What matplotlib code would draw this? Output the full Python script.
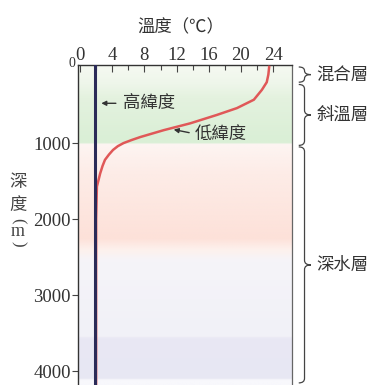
import numpy as np
import matplotlib
matplotlib.use("Agg")
import matplotlib.pyplot as plt
from matplotlib.path import Path
from matplotlib.patches import PathPatch
from matplotlib.colors import to_rgb
import matplotlib.transforms as mtransforms

# ---------------- data ----------------
x_ticks = [0, 4, 8, 12, 16, 20, 24]
x_minor = [2, 6, 10, 14, 18, 22]
y_ticks = [1000, 2000, 3000, 4000]

depth_low = [0, 100, 200, 300, 430, 540, 630, 740, 830, 920, 960, 1000, 1040, 1090, 1150, 1220, 1300, 1400, 1570, 2000, 4250]
temp_low = [23.5, 23.4, 23.2, 22.6, 21.6, 19.5, 17.0, 13.7, 10.4, 7.5, 6.4, 5.4, 4.7, 4.1, 3.6, 3.1, 2.8, 2.5, 2.1, 2.0, 2.0]

depth_high = [-30, 4250]
temp_high = [1.8, 1.8]

layer_names = ["混合層", "斜溫層", "深水層"]
layer_top = [0, 230, 1050]
layer_bottom = [200, 1030, 4150]

title = "溫度（℃）"
ylabel_chars = ["深", "度", "(", "m", ")"]

# ---------------- figure ----------------
plt.rcParams['font.family'] = ['Noto Sans CJK TC', 'DejaVu Sans']
fig = plt.figure(figsize=(3.84, 3.85), dpi=100)
fig.patch.set_facecolor('white')

x0, x1 = -0.25, 26.3
ytop, ybot = -26, 4228
ax = fig.add_axes([78/384, -0.01, (291.7-78)/384, 1-65/385+0.01])

# background gradient bands
stops_d = [-30, 220, 400, 950, 995, 1010, 1400, 2250, 2400, 2550, 3540, 3560, 4090, 4110, 4260]
stops_c = ['#f6f9f2', '#eef6ea', '#e4f2df', '#daefd6', '#daefd6', '#fdf5f2', '#fdece7',
           '#fde1d9', '#fdf1ed', '#f5f4f9', '#f1f1f7', '#e9e8f4', '#e7e7f3', '#f8f8fc', '#f8f8fc']
grid = np.linspace(-30, 4260, 800)
rgb = np.array([to_rgb(c) for c in stops_c])
img = np.stack([np.interp(grid, stops_d, rgb[:, k]) for k in range(3)], axis=-1)[:, None, :]
ax.imshow(img, extent=[x0, x1, 4260, -30], aspect='auto', interpolation='bilinear', zorder=0)
ax.set_xlim(x0, x1)
ax.set_ylim(ybot, ytop)

# curves
ax.plot(temp_low, depth_low, color='#e05858', lw=1.8, zorder=3, solid_joinstyle='round')
ax.plot(temp_high, depth_high, color='#2b2b58', lw=2.2, zorder=4)

# axes styling
ax.xaxis.tick_top()
ax.set_xticks(x_ticks)
ax.set_xticks(x_minor, minor=True)
ax.set_xticklabels([str(v) for v in x_ticks], family='Liberation Serif', fontsize=13.5)
ax.tick_params(axis='x', which='major', direction='in', length=5, width=0.8, pad=1, colors='#444444')
ax.tick_params(axis='x', which='minor', direction='in', length=3.5, width=0.8, colors='#444444')
for lab in ax.get_xticklabels():
    lab.set_color('#333333')
ax.set_yticks(y_ticks)
ax.set_yticklabels([str(v) for v in y_ticks], family='Liberation Serif', fontsize=13.5)
ax.tick_params(axis='y', which='major', direction='out', length=4, width=0.8, pad=1, colors='#444444')
for lab in ax.get_yticklabels():
    lab.set_color('#333333')
ax.spines['bottom'].set_visible(False)
for s in ['left', 'top']:
    ax.spines[s].set_linewidth(1.0)
    ax.spines[s].set_color('#333333')
ax.spines['right'].set_linewidth(0.9)
ax.spines['right'].set_color('#666666')

# 0 on the depth axis
ax.text(-0.012, 1.005, "0", transform=ax.transAxes, ha='right', va='center',
        family='Liberation Serif', fontsize=10, color='#333333')

# title
fig.text(181/384, 1-27/385, title, ha='center', va='center', fontsize=12.5, color='#333333')

# y label (stacked vertically)
ylab_y = [182, 205, 221, 232, 244]
ylab_rot = [0, 0, -90, 0, -90]
ylab_fs = [12.5, 12.5, 12, 13, 12]
for ch, yy, rot, fs in zip(ylabel_chars, ylab_y, ylab_rot, ylab_fs):
    fam = ['Liberation Serif'] if ch in 'm()' else ['Noto Sans CJK TC', 'DejaVu Sans']
    fig.text(18/384, 1-yy/385, ch, ha='center', va='center', fontsize=fs, rotation=rot,
             family=fam, color='#444444')

# annotations
ax.annotate("", xy=(2.3, 477), xytext=(4.8, 477),
            arrowprops=dict(arrowstyle='-|>', color='#333333', lw=1.0, mutation_scale=7), zorder=5)
ax.text(5.3, 477, "高緯度", ha='left', va='center', fontsize=12.5, color='#333333', zorder=5)
ax.annotate("", xy=(11.3, 815), xytext=(13.9, 870),
            arrowprops=dict(arrowstyle='-|>', color='#333333', lw=1.0, mutation_scale=7), zorder=5)
ax.text(14.3, 880, "低緯度", ha='left', va='center', fontsize=12.5, color='#333333', zorder=5)

# braces on the right
trans = mtransforms.blended_transform_factory(ax.transAxes, ax.transData)
xa, xm, xt = 1.033, 1.06, 1.09
r = 60
for name, ya, yb in zip(layer_names, layer_top, layer_bottom):
    ymid = (ya + yb) / 2
    rr = min(r, (yb - ya) / 4)
    verts = [(xa, ya), (xm, ya), (xm, ya + rr),
             (xm, ymid - rr),
             (xm, ymid), (xt, ymid),
             (xm, ymid), (xm, ymid + rr),
             (xm, yb - rr),
             (xm, yb), (xa, yb)]
    codes = [Path.MOVETO, Path.CURVE3, Path.CURVE3,
             Path.LINETO,
             Path.CURVE3, Path.CURVE3,
             Path.CURVE3, Path.CURVE3,
             Path.LINETO,
             Path.CURVE3, Path.CURVE3]
    patch = PathPatch(Path(verts, codes), transform=trans, fill=False, lw=0.9,
                      edgecolor='#444444', clip_on=False)
    ax.add_patch(patch)
    ax.text(1.115, ymid, name, transform=trans, ha='left', va='center', fontsize=12.5,
            color='#333333', clip_on=False)

fig.savefig("out.png", dpi=100, facecolor='white')
